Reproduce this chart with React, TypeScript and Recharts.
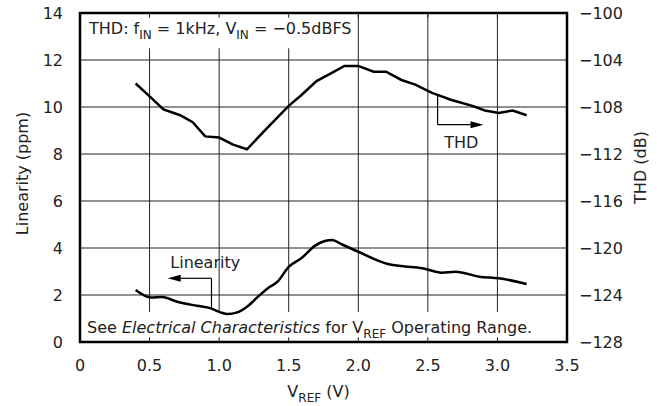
import React from 'react';
import {
  LineChart,
  Line,
  XAxis,
  YAxis,
  CartesianGrid,
  ReferenceArea,
  ReferenceLine,
  ReferenceDot,
  Label,
} from 'recharts';

// ---- Data ----
const thdVref = [0.40, 0.51, 0.60, 0.72, 0.81, 0.90, 1.00, 1.10, 1.20, 1.32, 1.50, 1.59, 1.70, 1.81, 1.90, 2.00, 2.11, 2.20, 2.31, 2.41, 2.53, 2.67, 2.82, 2.91, 3.01, 3.11, 3.21];
const thdDb = [-106.0, -107.2, -108.2, -108.7, -109.3, -110.5, -110.6, -111.2, -111.6, -110.1, -107.9, -107.0, -105.8, -105.1, -104.5, -104.5, -105.0, -105.0, -105.7, -106.1, -106.8, -107.4, -107.9, -108.3, -108.5, -108.3, -108.7];

const linVref = [0.40, 0.51, 0.59, 0.70, 0.84, 0.94, 1.01, 1.06, 1.13, 1.20, 1.28, 1.35, 1.42, 1.50, 1.59, 1.69, 1.76, 1.81, 1.88, 2.00, 2.22, 2.31, 2.46, 2.60, 2.70, 2.87, 3.01, 3.21];
const linPpm = [2.21, 1.89, 1.91, 1.71, 1.54, 1.43, 1.26, 1.19, 1.26, 1.50, 1.93, 2.29, 2.57, 3.20, 3.56, 4.10, 4.30, 4.34, 4.16, 3.84, 3.31, 3.23, 3.14, 2.95, 2.99, 2.78, 2.71, 2.47];

const xTicks = [0, 0.5, 1.0, 1.5, 2.0, 2.5, 3.0, 3.5];
const leftTicks = [0, 2, 4, 6, 8, 10, 12, 14];
const rightTicks = [-128, -124, -120, -116, -112, -108, -104, -100];

const thdData = thdVref.map((v, i) => ({ vref: v, thd: thdDb[i] }));
const linData = linVref.map((v, i) => ({ vref: v, lin: linPpm[i] }));

const FONT = '"DejaVu Sans", Verdana, sans-serif';
const TXT = '#222';
const FS = 16;
const SUB = 12;

const arrowShape = (props: any) => {
  const { x1, y1, x2, y2 } = props;
  const dx = x2 - x1;
  const dy = y2 - y1;
  const len = Math.hypot(dx, dy) || 1;
  const ux = dx / len;
  const uy = dy / len;
  const hl = 13;
  const hw = 3.5;
  const bx = x2 - ux * hl;
  const by = y2 - uy * hl;
  return (
    <g>
      <line x1={x1} y1={y1} x2={bx} y2={by} stroke="#000" strokeWidth={1.2} />
      <polygon
        points={`${x2},${y2} ${bx - uy * hw},${by + ux * hw} ${bx + uy * hw},${by - ux * hw}`}
        fill="#000"
      />
    </g>
  );
};

const plainLine = (props: any) => {
  const { x1, y1, x2, y2 } = props;
  return <line x1={x1} y1={y1} x2={x2} y2={y2} stroke="#000" strokeWidth={1.2} />;
};

const tickMark = (props: any) => {
  const { x1, y1, x2, y2 } = props;
  return <line x1={x1} y1={y1} x2={x2} y2={y2} stroke="#222" strokeWidth={1} />;
};

const TopBoxLabel = (props: any) => {
  const vb = props.viewBox || {};
  return (
    <text x={vb.x + 9} y={vb.y + 21} fontFamily={FONT} fontSize={FS} fill={TXT}>
      THD: f<tspan dy={5} fontSize={SUB}>IN</tspan>
      <tspan dy={-5}> = 1kHz, V</tspan>
      <tspan dy={5} fontSize={SUB}>IN</tspan>
      <tspan dy={-5}> = −0.5dBFS</tspan>
    </text>
  );
};

const BottomBoxLabel = (props: any) => {
  const vb = props.viewBox || {};
  return (
    <text x={vb.x + 7} y={vb.y + 21} fontFamily={FONT} fontSize={FS} fill={TXT}>
      See <tspan fontStyle="italic">Electrical Characteristics</tspan> for V
      <tspan dy={5} fontSize={SUB}>REF</tspan>
      <tspan dy={-5}> Operating Range.</tspan>
    </text>
  );
};

const LeftAxisLabel = (props: any) => {
  const vb = props.viewBox || {};
  const cx = vb.x + 22;
  const cy = vb.y + vb.height / 2 - 4;
  return (
    <text
      x={cx}
      y={cy}
      transform={`rotate(-90 ${cx} ${cy})`}
      textAnchor="middle"
      dominantBaseline="central"
      fontFamily={FONT}
      fontSize={FS}
      fill={TXT}
    >
      Linearity (ppm)
    </text>
  );
};

const RightAxisLabel = (props: any) => {
  const vb = props.viewBox || {};
  const cx = vb.x + 73;
  const cy = vb.y + vb.height / 2 - 10;
  return (
    <text
      x={cx}
      y={cy}
      transform={`rotate(-90 ${cx} ${cy})`}
      textAnchor="middle"
      dominantBaseline="central"
      fontFamily={FONT}
      fontSize={FS}
      fill={TXT}
    >
      THD (dB)
    </text>
  );
};

const XAxisLabel = (props: any) => {
  const vb = props.viewBox || {};
  const cx = vb.x + vb.width / 2 - 5;
  return (
    <text x={cx} y={vb.y + 55} textAnchor="middle" fontFamily={FONT} fontSize={FS} fill={TXT}>
      V<tspan dy={5} fontSize={SUB}>REF</tspan>
      <tspan dy={-5}> (V)</tspan>
    </text>
  );
};

const tickStyle = { fontFamily: FONT, fontSize: FS, fill: TXT };
const innerXTicks = xTicks.slice(1, -1);

export default function App() {
  return (
    <div style={{ position: 'absolute', left: 0, top: 0, width: 657, height: 406, background: '#fff' }}>
      <LineChart width={657} height={406} margin={{ top: 13, right: 0, bottom: 0, left: 0 }}>
        <CartesianGrid
          xAxisId="x"
          yAxisId="left"
          stroke="#222"
          strokeWidth={1}
          verticalValues={xTicks}
          horizontalValues={leftTicks}
        />
        <XAxis
          xAxisId="x"
          type="number"
          dataKey="vref"
          domain={[0, 3.5]}
          ticks={xTicks}
          allowDataOverflow
          height={64}
          tickLine={false}
          axisLine={false}
          tickSize={0}
          tickMargin={18}
          tick={tickStyle}
          tickFormatter={(v: number) => (v === 0 ? '0' : v.toFixed(1))}
        >
          <Label content={XAxisLabel} />
        </XAxis>
        <YAxis
          yAxisId="left"
          orientation="left"
          type="number"
          domain={[0, 14]}
          ticks={leftTicks}
          width={80}
          tickLine={false}
          axisLine={false}
          tickSize={0}
          tickMargin={17}
          tick={tickStyle}
        >
          <Label content={LeftAxisLabel} />
        </YAxis>
        <YAxis
          yAxisId="right"
          orientation="right"
          type="number"
          domain={[-128, -100]}
          ticks={rightTicks}
          width={90}
          tickLine={false}
          axisLine={false}
          tickSize={0}
          tickMargin={12}
          tick={{ ...tickStyle, textAnchor: 'start' }}
          tickFormatter={(v: number) => String(v).replace('-', '−')}
        >
          <Label content={RightAxisLabel} />
        </YAxis>

        <ReferenceArea
          xAxisId="x"
          yAxisId="left"
          x1={0}
          x2={1.99}
          y1={12.5}
          y2={14}
          fill="#fff"
          fillOpacity={1}
          stroke="none"
          label={<TopBoxLabel />}
        />
        <ReferenceArea
          xAxisId="x"
          yAxisId="left"
          x1={0}
          x2={3.5}
          y1={0}
          y2={1.28}
          fill="#fff"
          fillOpacity={1}
          stroke="none"
          label={<BottomBoxLabel />}
        />

        {/* inner tick marks along the top and bottom frame */}
        {innerXTicks.map((t) => (
          <ReferenceLine
            key={`tt${t}`}
            xAxisId="x"
            yAxisId="left"
            segment={[{ x: t, y: 14 }, { x: t, y: 13.8 }]}
            shape={tickMark}
          />
        ))}
        {innerXTicks.map((t) => (
          <ReferenceLine
            key={`bt${t}`}
            xAxisId="x"
            yAxisId="left"
            segment={[{ x: t, y: 0 }, { x: t, y: 0.2 }]}
            shape={tickMark}
          />
        ))}

        {/* THD annotation arrow */}
        <ReferenceLine
          xAxisId="x"
          yAxisId="right"
          segment={[{ x: 2.57, y: -106.95 }, { x: 2.57, y: -109.5 }]}
          shape={plainLine}
        />
        <ReferenceLine
          xAxisId="x"
          yAxisId="right"
          segment={[{ x: 2.57, y: -109.5 }, { x: 2.90, y: -109.5 }]}
          shape={arrowShape}
        />
        <ReferenceDot
          xAxisId="x"
          yAxisId="left"
          x={2.74}
          y={8.5}
          r={0}
          fill="none"
          stroke="none"
          label={{ value: 'THD', position: 'center', fontFamily: FONT, fontSize: FS, fill: TXT }}
        />

        {/* Linearity annotation arrow */}
        <ReferenceLine
          xAxisId="x"
          yAxisId="left"
          segment={[{ x: 0.945, y: 1.43 }, { x: 0.945, y: 2.71 }]}
          shape={plainLine}
        />
        <ReferenceLine
          xAxisId="x"
          yAxisId="left"
          segment={[{ x: 0.945, y: 2.71 }, { x: 0.63, y: 2.71 }]}
          shape={arrowShape}
        />
        <ReferenceDot
          xAxisId="x"
          yAxisId="left"
          x={0.9}
          y={3.4}
          r={0}
          fill="none"
          stroke="none"
          label={{ value: 'Linearity', position: 'center', fontFamily: FONT, fontSize: FS, fill: TXT }}
        />

        <Line
          xAxisId="x"
          yAxisId="right"
          data={thdData}
          dataKey="thd"
          type="linear"
          stroke="#000"
          strokeWidth={2.5}
          dot={false}
          activeDot={false}
          isAnimationActive={false}
        />
        <Line
          xAxisId="x"
          yAxisId="left"
          data={linData}
          dataKey="lin"
          type="monotone"
          stroke="#000"
          strokeWidth={2.5}
          dot={false}
          activeDot={false}
          isAnimationActive={false}
        />

        {/* plot frame */}
        <ReferenceArea
          xAxisId="x"
          yAxisId="left"
          x1={0}
          x2={3.5}
          y1={0}
          y2={14}
          fill="none"
          stroke="#000"
          strokeWidth={2.5}
        />
      </LineChart>
    </div>
  );
}
